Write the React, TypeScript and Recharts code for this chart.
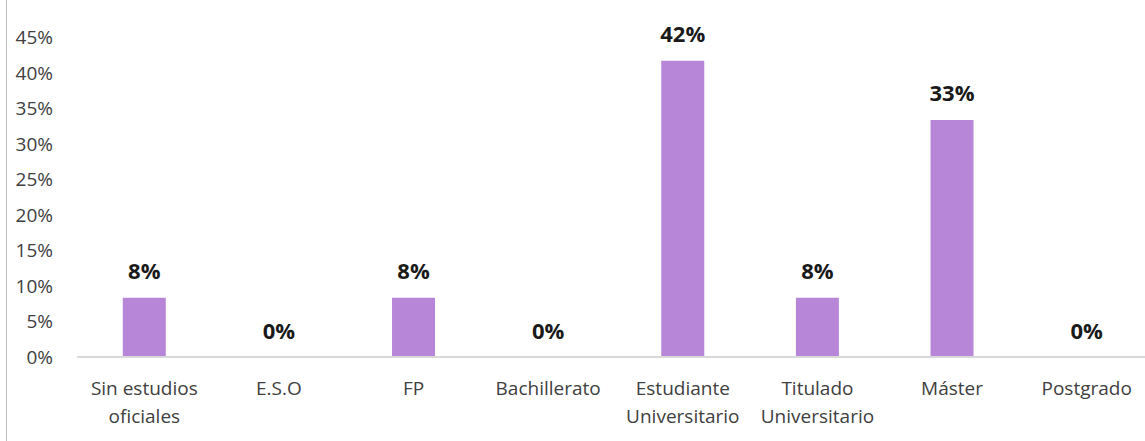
import React from 'react';
import { BarChart, Bar, XAxis, YAxis, LabelList, Rectangle } from 'recharts';

const categories = [
  'Sin estudios\noficiales',
  'E.S.O',
  'FP',
  'Bachillerato',
  'Estudiante\nUniversitario',
  'Titulado\nUniversitario',
  'Máster',
  'Postgrado',
];
const values = [8.33, 0, 8.33, 0, 41.67, 8.33, 33.33, 0];
const yTicks = [0, 5, 10, 15, 20, 25, 30, 35, 40, 45];

const data = categories.map((c, i) => ({ name: c, value: values[i] }));

const FONT = '"Open Sans", sans-serif';

const XTick = (props: any) => {
  const { x, y, payload } = props;
  const lines = String(payload.value).split('\n');
  return (
    <g>
      {lines.map((l: string, i: number) => (
        <text
          key={i}
          x={x}
          y={y + 30 + i * 28}
          textAnchor="middle"
          fontFamily={FONT}
          fontSize={19}
          fill="#404040"
        >
          {l}
        </text>
      ))}
    </g>
  );
};

const YTick = (props: any) => {
  const { x, y, payload } = props;
  return (
    <text x={x} y={y + 7} textAnchor="end" fontFamily={FONT} fontSize={19} fill="#404040">
      {payload.value + '%'}
    </text>
  );
};

const ValueLabel = (props: any) => {
  const { x, y, width, height, value } = props;
  const top = Math.min(y, y + height);
  const isZero = Number(value) === 0;
  return (
    <text
      x={x + width / 2}
      y={top - (isZero ? 17 : 19)}
      textAnchor="middle"
      fontFamily={FONT}
      fontSize={22}
      fontWeight="bold"
      fill="#1a1a1a"
    >
      {Math.round(Number(value)) + '%'}
    </text>
  );
};

const BarShape = (props: any) => {
  if (!props.value || Number(props.value) <= 0) return <g />;
  return <Rectangle {...props} />;
};

export default function App() {
  return (
    <div
      style={{
        position: 'absolute',
        left: 0,
        top: 0,
        width: 1145,
        height: 441,
        background: '#fff',
        overflow: 'hidden',
      }}
    >
      <div style={{ position: 'absolute', left: 6, top: 0, width: 1, height: 441, background: '#BFBFBF' }} />
      <BarChart
        width={1154}
        height={441}
        data={data}
        margin={{ top: 37, right: 0, bottom: 0, left: 0 }}
        barCategoryGap="34%"
      >
        <XAxis
          dataKey="name"
          interval={0}
          height={84}
          tickLine={false}
          axisLine={{ stroke: '#D9D9D9', strokeWidth: 2 }}
          tick={<XTick />}
        />
        <YAxis
          width={77}
          domain={[0, 45]}
          ticks={yTicks}
          axisLine={false}
          tickLine={false}
          tickMargin={18}
          tick={<YTick />}
        />
        <Bar
          dataKey="value"
          fill="#B886D8"
          minPointSize={1}
          shape={<BarShape />}
          isAnimationActive={false}
        >
          <LabelList dataKey="value" content={<ValueLabel />} />
        </Bar>
      </BarChart>
    </div>
  );
}
